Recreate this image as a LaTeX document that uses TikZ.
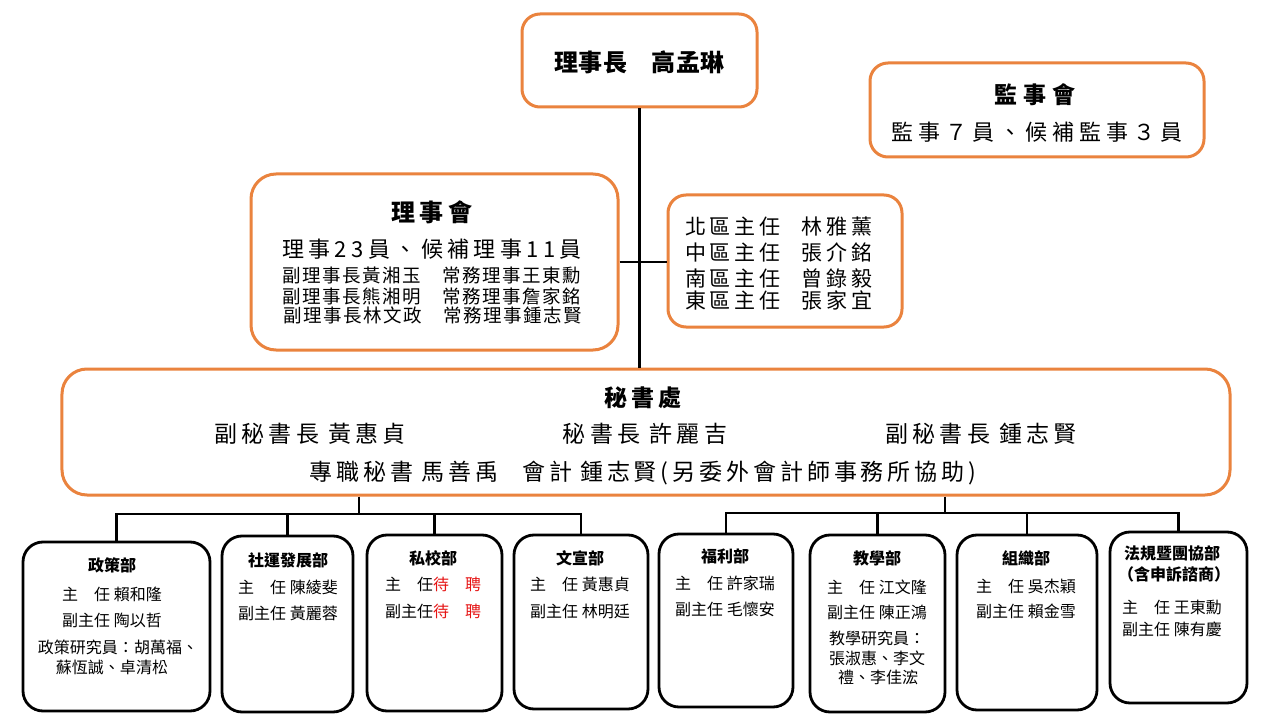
\documentclass[tikz,border=0pt]{standalone}
\usepackage{fontspec}
\setmainfont{Noto Sans CJK TC}
\newcommand\myfs[1]{\fontsize{#1bp}{#1bp}\selectfont}
\newcommand\trk[2]{\addfontfeature{LetterSpace=#1}\myfs{#2}}
\definecolor{borderorange}{RGB}{234,131,62}
\definecolor{waitred}{RGB}{230,20,20}
\begin{document}
\begin{tikzpicture}[x=1bp,y=-1bp,
  obox/.style={draw=borderorange, line width=3bp, rounded corners=18bp, inner sep=0pt},
  kbox/.style={draw=black, line width=2.8bp, rounded corners=20bp, inner sep=0pt},
  conn/.style={draw=black, line width=2.4bp},
  txt/.style={inner sep=0pt, anchor=center, text=black},
  ltxt/.style={inner sep=0pt, anchor=west, text=black},
  dtitle/.style={txt, font=\bfseries\myfs{16}},
  dline/.style={txt, font=\myfs{16}},
]
\path[use as bounding box, fill=white] (0,0) rectangle (1280,720);

% orange boxes
\node[obox, minimum width=235bp, minimum height=93bp] (chair) at (639.5,60.5) {};
\node[obox, minimum width=334bp, minimum height=94bp] (sup) at (1037,110) {};
\node[obox, minimum width=367bp, minimum height=176bp, rounded corners=25bp] (council) at (434.5,262) {};
\node[obox, minimum width=234bp, minimum height=132bp] (district) at (785,261) {};
\node[obox, minimum width=1168bp, minimum height=126bp, rounded corners=25bp] (sec) at (646,432) {};

% department boxes
\node[kbox, minimum width=187bp, minimum height=169bp] (d1) at (116.5,626.5) {};
\node[kbox, minimum width=131bp, minimum height=176bp] (d2) at (287.5,624) {};
\node[kbox, minimum width=135bp, minimum height=176bp] (d3) at (434.5,623) {};
\node[kbox, minimum width=134bp, minimum height=174bp] (d4) at (581,622) {};
\node[kbox, minimum width=134bp, minimum height=173bp] (d5) at (726,620.5) {};
\node[kbox, minimum width=135bp, minimum height=177bp] (d6) at (877.5,623.5) {};
\node[kbox, minimum width=140bp, minimum height=175bp] (d7) at (1027,622.5) {};
\node[kbox, minimum width=137bp, minimum height=171bp] (d8) at (1178.5,617.5) {};

% connectors
\draw[conn] (chair.south) -- (chair.south |- sec.north);
\draw[conn] (council.east) -- (council.east -| district.west);
\coordinate (lbus) at (359,514);
\coordinate (rbus) at (945,513);
\draw[conn] (sec.south -| lbus) -- (lbus);
\draw[conn] (sec.south -| rbus) -- (rbus);
\draw[conn] (d1.north) |- (lbus) -| (d4.north);
\draw[conn] (d2.north) -- (d2.north |- lbus);
\draw[conn] (d3.north) -- (d3.north |- lbus);
\draw[conn] (d5.north) |- (rbus) -| (d8.north);
\draw[conn] (d6.north) -- (d6.north |- rbus);
\draw[conn] (d7.north) -- (d7.north |- rbus);

% chair
\node[txt, font=\bfseries\trk{2}{24}] (tchair) at (639.5,62) {理事長　高孟琳};
% supervisors
\node[txt, font=\bfseries\trk{24}{23}] (tsup1) at (1035,95) {監事會};
\node[txt, font=\trk{22}{22}] (tsup2) at (1037,132) {監事７員、候補監事３員};
% council
\node[txt, font=\bfseries\trk{17}{24}] (tc1) at (432,212) {理事會};
\node[txt, font=\trk{20}{22}] (tc2) at (432,249) {理事23員、候補理事11員};
\node[txt, font=\trk{8}{18.5}] (tc3) at (432,275) {副理事長黃湘玉　常務理事王東勳};
\node[txt, font=\trk{8}{18.5}] (tc4) at (432,296) {副理事長熊湘明　常務理事詹家銘};
\node[txt, font=\trk{8}{18.5}] (tc5) at (433,315) {副理事長林文政　常務理事鍾志賢};
% districts
\node[ltxt, font=\trk{18}{21}] (tr1) at (685,227) {北區主任\hspace{21bp}林雅薰};
\node[ltxt, font=\trk{18}{21}] (tr2) at (685,252) {中區主任\hspace{21bp}張介銘};
\node[ltxt, font=\trk{18}{21}] (tr3) at (685,278) {南區主任\hspace{21bp}曾錄毅};
\node[ltxt, font=\trk{18}{21}] (tr4) at (685,300) {東區主任\hspace{21bp}張家宜};
% secretariat
\node[txt, font=\bfseries\trk{19}{23}] (ts1) at (643,398) {秘書處};
\node[txt, font=\trk{19}{23}] (ts2) at (310,434) {副秘書長\hspace{9bp}黃惠貞};
\node[txt, font=\trk{19}{23}] (ts3) at (645,434) {秘書長\hspace{9bp}許麗吉};
\node[txt, font=\trk{19}{23}] (ts4) at (981,434) {副秘書長\hspace{9bp}鍾志賢};
\node[txt, font=\trk{17}{23}] (ts5) at (643,473) {專職秘書\hspace{8bp}馬善禹\hspace{24bp}會計\hspace{8bp}鍾志賢(另委外會計師事務所協助)};

% departments
\node[dtitle] (a1) at (112,565) {政策部};
\node[dline] (a2) at (112,594) {主　任 賴和隆};
\node[dline] (a3) at (112,620) {副主任 陶以哲};
\node[dline] (a4) at (118,647) {政策研究員：胡萬福、};
\node[dline] (a5) at (112,667) {蘇恆誠、卓清松};

\node[dtitle] (b1) at (288,560) {社運發展部};
\node[dline] (b2) at (288,587) {主　任 陳綾斐};
\node[dline] (b3) at (288,613) {副主任 黃麗蓉};

\node[dtitle] (c1) at (433,558) {私校部};
\node[dline] (c2) at (433,584) {主　任\textcolor{waitred}{待　聘}};
\node[dline] (c3) at (433,611) {副主任\textcolor{waitred}{待　聘}};

\node[dtitle] (e1) at (580,558) {文宣部};
\node[dline] (e2) at (580,584) {主　任 黃惠貞};
\node[dline] (e3) at (580,611) {副主任 林明廷};

\node[dtitle] (f1) at (725,556) {福利部};
\node[dline] (f2) at (725,583) {主　任 許家瑞};
\node[dline] (f3) at (725,609) {副主任 毛懷安};

\node[dtitle] (g1) at (877,558) {教學部};
\node[dline] (g2) at (877,587) {主　任 江文隆};
\node[dline] (g3) at (877,612) {副主任 陳正鴻};
\node[dline] (g4) at (877,638) {教學研究員：};
\node[dline] (g5) at (877,658) {張淑惠、李文};
\node[dline] (g6) at (878,677) {禮、李佳浤};

\node[dtitle] (h1) at (1026,558) {組織部};
\node[dline] (h2) at (1026,586) {主　任 吳杰穎};
\node[dline] (h3) at (1026,611) {副主任 賴金雪};

\node[dtitle] (k1) at (1172,553) {法規暨團協部};
\node[dtitle] (k2) at (1174,574) {（含申訴諮商）};
\node[dline] (k3) at (1172,607) {主　任 王東勳};
\node[dline] (k4) at (1172,629) {副主任 陳有慶};
\end{tikzpicture}
\end{document}
